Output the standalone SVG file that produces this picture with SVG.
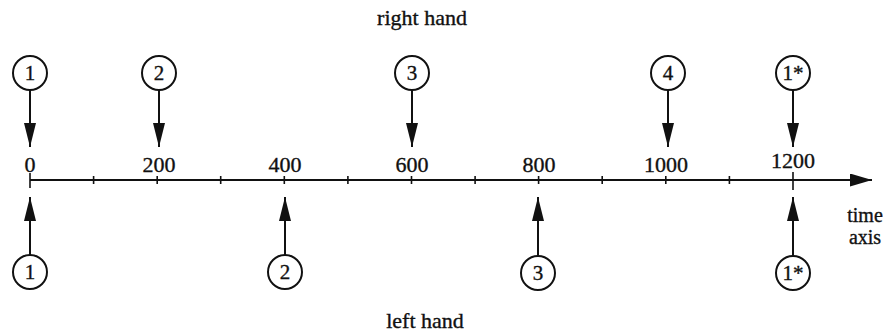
<svg xmlns="http://www.w3.org/2000/svg" width="888" height="336" viewBox="0 0 888 336">
<style>
text{font-family:"Liberation Serif","DejaVu Serif","Times New Roman",serif;font-size:22px;fill:#111;text-anchor:middle;stroke:#111;stroke-width:0.35}
.lab{font-size:21px}
.sm{font-size:20px}
circle{fill:#fff;stroke:#111;stroke-width:2}
.ln{stroke:#111;stroke-width:2;fill:none}
.tk{stroke:#111;stroke-width:1.6}
</style>
<defs>
<marker id="ah" viewBox="0 0 24 12" markerWidth="24" markerHeight="12" refX="24" refY="6" orient="auto" markerUnits="userSpaceOnUse"><path d="M0,0 L24,6 L0,12 Z" fill="#111"/></marker>
<marker id="ax" viewBox="0 0 22 13" markerWidth="22" markerHeight="13" refX="22" refY="6.5" orient="auto" markerUnits="userSpaceOnUse"><path d="M0,0 L22,6.5 L0,13 Z" fill="#111"/></marker>
</defs>
<g font-family="Liberation Serif, DejaVu Serif, serif">
<text x="422" y="25">right hand</text>
<text x="425" y="328">left hand</text>
<g id="axis">
<line class="ln" x1="30" y1="180" x2="872" y2="180" marker-end="url(#ax)"/>
<line class="tk" x1="30" y1="173" x2="30" y2="188"/>
<line class="tk" x1="93.6" y1="176" x2="93.6" y2="184"/>
<line class="tk" x1="157.2" y1="176" x2="157.2" y2="184"/>
<line class="tk" x1="220.7" y1="176" x2="220.7" y2="184"/>
<line class="tk" x1="284.3" y1="176" x2="284.3" y2="184"/>
<line class="tk" x1="347.9" y1="176" x2="347.9" y2="184"/>
<line class="tk" x1="411.5" y1="176" x2="411.5" y2="184"/>
<line class="tk" x1="475.1" y1="176" x2="475.1" y2="184"/>
<line class="tk" x1="538.6" y1="176" x2="538.6" y2="184"/>
<line class="tk" x1="602.2" y1="176" x2="602.2" y2="184"/>
<line class="tk" x1="665.8" y1="176" x2="665.8" y2="184"/>
<line class="tk" x1="729.4" y1="176" x2="729.4" y2="184"/>
<line class="tk" x1="793" y1="172" x2="793" y2="190"/>
<text x="30" y="172">0</text>
<text x="159" y="172">200</text>
<text x="285" y="172">400</text>
<text x="412" y="172">600</text>
<text x="539" y="172">800</text>
<text x="666" y="172">1000</text>
<text x="793" y="168">1200</text>
<text class="sm" x="865" y="222">time</text>
<text class="sm" x="865" y="244">axis</text>
</g>
<g id="connectors">
<line class="ln" x1="30" y1="90" x2="30" y2="147" marker-end="url(#ah)"/>
<line class="ln" x1="159" y1="90" x2="159" y2="147" marker-end="url(#ah)"/>
<line class="ln" x1="412" y1="90" x2="412" y2="147" marker-end="url(#ah)"/>
<line class="ln" x1="668" y1="90" x2="668" y2="147" marker-end="url(#ah)"/>
<line class="ln" x1="793" y1="90" x2="793" y2="147" marker-end="url(#ah)"/>
<line class="ln" x1="30" y1="255" x2="30" y2="197" marker-end="url(#ah)"/>
<line class="ln" x1="285" y1="255" x2="285" y2="197" marker-end="url(#ah)"/>
<line class="ln" x1="538" y1="255" x2="538" y2="197" marker-end="url(#ah)"/>
<line class="ln" x1="793" y1="255" x2="793" y2="197" marker-end="url(#ah)"/>
</g>
<g id="r1"><circle cx="30" cy="73" r="17"/><text class="lab" x="30" y="80">1</text></g>
<g id="r2"><circle cx="159" cy="73" r="17"/><text class="lab" x="159" y="80">2</text></g>
<g id="r3"><circle cx="412" cy="73" r="17"/><text class="lab" x="412" y="80">3</text></g>
<g id="r4"><circle cx="668" cy="73" r="17"/><text class="lab" x="668" y="80">4</text></g>
<g id="r1s"><circle cx="793" cy="73" r="17"/><text class="lab" x="793" y="80">1*</text></g>
<g id="l1"><circle cx="30" cy="272" r="17"/><text class="lab" x="30" y="279">1</text></g>
<g id="l2"><circle cx="285" cy="272" r="17"/><text class="lab" x="285" y="279">2</text></g>
<g id="l3"><circle cx="538" cy="273" r="17"/><text class="lab" x="538" y="280">3</text></g>
<g id="l1s"><circle cx="793" cy="273" r="17"/><text class="lab" x="793" y="280">1*</text></g>
</g>
</svg>
